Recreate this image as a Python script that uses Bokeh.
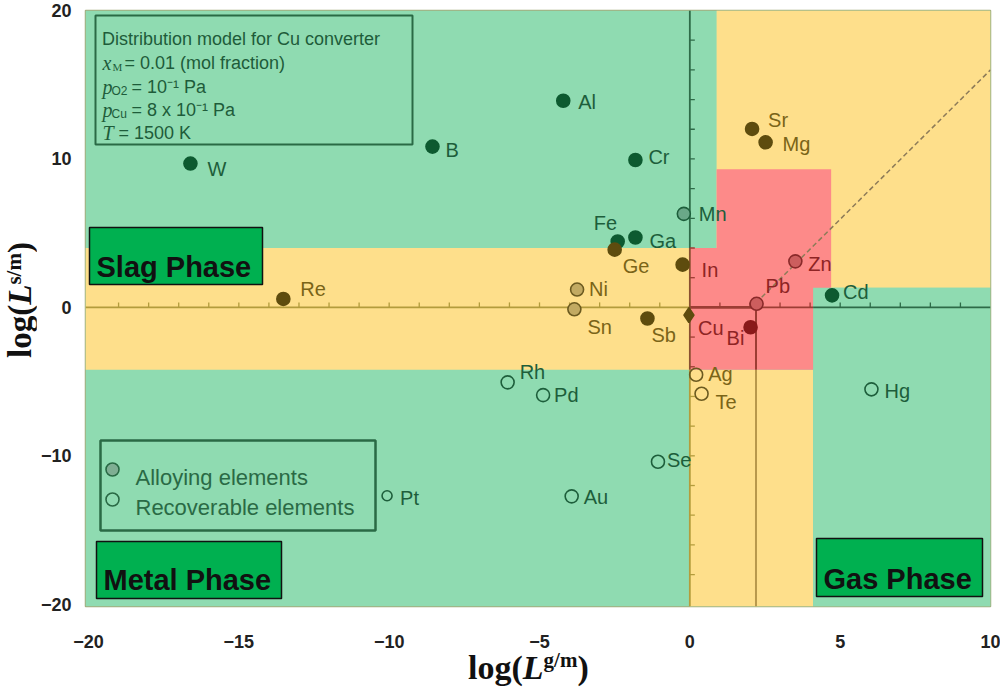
from bokeh.plotting import figure
from bokeh.models import Range1d, Label, FixedTicker, ColumnDataSource, Div
from bokeh.layouts import row, column
from bokeh.embed import file_html
from bokeh.resources import INLINE
from bokeh.core.properties import value

# ---------------- data ----------------
elements = ["W", "B", "Al", "Cr", "Mn", "Fe", "Ga", "Ge", "In", "Ni", "Re", "Sn", "Sb", "Cu",
            "Bi", "Pb", "Zn", "Cd", "Sr", "Mg", "Rh", "Pd", "Ag", "Te", "Se", "Au", "Hg", "Pt"]
log_Lgm = [-16.61, -8.56, -4.21, -1.81, -0.20, -2.40, -1.81, -2.50, -0.24, -3.75, -13.52, -3.84, -1.41, -0.03,
           2.02, 2.22, 3.51, 4.73, 2.07, 2.52, -6.06, -4.88, 0.21, 0.39, -1.06, -3.93, 6.04, -10.07]
log_Lsm = [9.69, 10.83, 13.92, 9.93, 6.30, 4.44, 4.71, 3.89, 2.88, 1.20, 0.57, -0.13, -0.75, -0.52,
           -1.34, 0.24, 3.10, 0.81, 12.02, 11.12, -5.05, -5.91, -4.54, -5.82, -10.40, -12.73, -5.52, -12.69]
# "removed" = removed to slag/gas (filled), "alloy" = alloying element, "recover" = recoverable element
kind = ["removed", "removed", "removed", "removed", "alloy", "removed", "removed", "removed", "removed", "alloy",
        "removed", "alloy", "removed", "removed", "removed", "alloy", "alloy", "removed", "removed", "removed",
        "recover", "recover", "recover", "recover", "recover", "recover", "recover", "recover"]

x_ticks = [-20, -15, -10, -5, 0, 5, 10]
y_ticks = [-20, -10, 0, 10, 20]

# phase zones (left, right, bottom, top) in log units
zone_yellow = [(-20.1, 0.0, -4.2, 4.0), (0.89, 10.0, 1.33, 20.0), (0.0, 4.1, -20.15, -4.2)]
zone_pink = [(0.0, 4.7, -4.2, 4.0), (0.89, 4.7, 4.0, 9.3)]
zone_gas = [(4.1, 10.0, -20.15, 1.33)]
diag_x = [2.2, 10.0]
diag_y = [0.3, 16.0]

# ---------------- geometry ----------------
XR = (-20.1, 10.0)
YR = (-20.15, 20.0)
FL, FR, FT, FB = 85, 990, 10, 606  # frame in page pixels
YLAB_W = 36                        # width of the y-title column
P_W, P_H = 1000 - YLAB_W, 650


def X(px):
    return XR[0] + (px - FL) / (FR - FL) * (XR[1] - XR[0])


def Y(py):
    return YR[1] - (py - FT) / (FB - FT) * (YR[1] - YR[0])


PXX = (FR - FL) / (XR[1] - XR[0])
PXY = (FB - FT) / (YR[1] - YR[0])

GREEN = "#8fdbb1"
YELLOW = "#fedf8b"
PINK = "#fd8a89"


def inside(x, y, r):
    return r[0] <= x <= r[1] and r[2] <= y <= r[3]


def zone(x, y):
    if any(inside(x, y, r) for r in zone_gas):
        return "g"
    if any(inside(x, y, r) for r in zone_pink):
        return "r"
    if any(inside(x, y, r) for r in zone_yellow):
        return "y"
    return "g"


p = figure(width=P_W, height=P_H, x_range=Range1d(*XR), y_range=Range1d(*YR),
           output_backend="svg", toolbar_location=None,
           min_border_left=FL - YLAB_W, min_border_right=YLAB_W + P_W - FR, min_border_top=FT,
           min_border_bottom=P_H - FB)
p.xgrid.visible = False
p.ygrid.visible = False
p.background_fill_color = GREEN
p.border_fill_color = "white"
p.outline_line_color = "#a3ab7c"
p.outline_line_width = 1.5

for ax, ticks, stand in ((p.xaxis, x_ticks, 28), (p.yaxis, y_ticks, 14)):
    ax.ticker = FixedTicker(ticks=ticks)
    ax.axis_line_color = None
    ax.major_tick_line_color = None
    ax.minor_tick_line_color = None
    ax.major_tick_out = 0
    ax.major_tick_in = 0
    ax.minor_tick_out = 0
    ax.minor_tick_in = 0
    ax.major_label_text_font = "Liberation Sans"
    ax.major_label_text_font_style = "bold"
    ax.major_label_text_font_size = "18px"
    ax.major_label_text_color = "#222222"
    ax.major_label_standoff = stand

# ---------------- zones ----------------
full = [(XR[0], XR[1], YR[0], YR[1])]
for rects, col in ((full, GREEN), (zone_yellow, YELLOW), (zone_pink, PINK), (zone_gas, GREEN)):
    p.quad(left=[r[0] for r in rects], right=[r[1] for r in rects],
           bottom=[r[2] for r in rects], top=[r[3] for r in rects],
           fill_color=col, line_color=None)

# inner axes through the origin and separators
LINE_G, LINE_Y, LINE_R = "#2e6b48", "#b39c3c", "#9c3d34"
p.segment(x0=[XR[0], 0.0, 2.2, 4.1], y0=[0, 0, 0, 0], x1=[0.0, 2.2, 4.1, XR[1]], y1=[0, 0, 0, 0],
          line_color=[LINE_Y, LINE_R, LINE_R, LINE_G], line_width=[1.8, 2.6, 1.6, 1.6])
p.segment(x0=[0, 0, 0], y0=[YR[0], -4.2, 4.0], x1=[0, 0, 0], y1=[-4.2, 4.0, YR[1]],
          line_color=[LINE_Y, "#8a5030", LINE_G], line_width=1.8)
p.segment(x0=[2.2, 2.2], y0=[YR[0], -4.2], x1=[2.2, 2.2], y1=[-4.2, 0.0],
          line_color=["#b8984c", LINE_R], line_width=2)
p.line(diag_x, diag_y, line_color="#8d7b58", line_width=1.5, line_dash="5 3")

tick_col = {"g": LINE_G, "y": LINE_Y, "r": LINE_R}
xt = [v for v in range(-19, 10) if v != 0]
p.segment(x0=xt, y0=[0] * len(xt), x1=xt, y1=[5 / PXY] * len(xt),
          line_color=[tick_col[zone(v, 0.1)] for v in xt], line_width=1.3)
yt = [v for v in range(-18, 20, 2) if v != 0]
p.segment(x0=[0] * len(yt), y0=yt, x1=[5 / PXX] * len(yt), y1=yt,
          line_color=[tick_col[zone(0.05, v)] for v in yt], line_width=1.3)

# ---------------- points ----------------
fill_map = {
    ("removed", "g"): "#0d5a30", ("removed", "y"): "#5e4c0e", ("removed", "r"): "#8a1a1a",
    ("alloy", "g"): "#6aa888", ("alloy", "y"): "#c2aa62", ("alloy", "r"): "#cc5e5e",
}
line_map = {"g": "#1d5e3b", "y": "#6b5a20", "r": "#8a2a2a"}
fills, lines, sizes, markers = [], [], [], []
for e, x, y, k in zip(elements, log_Lgm, log_Lsm, kind):
    z = zone(x, y)
    fills.append(fill_map.get((k, z), None))
    lines.append(line_map[z] if k != "removed" else fill_map[(k, z)])
    sizes.append(10 if e == "Pt" else (15 if e == "Cu" else 13))
    markers.append("diamond" if e == "Cu" else "circle")
src = ColumnDataSource(dict(x=log_Lgm, y=log_Lsm, fill=fills, line=lines, size=sizes, marker=markers))
p.scatter("x", "y", source=src, marker="marker", size="size", fill_color="fill",
          line_color="line", line_width=1.6)

# label offsets in pixels (dx right, dy down) from the point
lab_off = {"W": (17, 5), "B": (13, 3), "Al": (15, 1), "Cr": (13, -3), "Mn": (15, 0), "Fe": (-24, -18),
           "Ga": (14, 4), "Ge": (8, 16), "In": (19, 5), "Ni": (12, -1), "Re": (17, -10), "Sn": (13, 18),
           "Sb": (4, 16), "Cu": (9, 13), "Bi": (-24, 11), "Pb": (9, -18), "Zn": (13, 3), "Cd": (11, -3),
           "Sr": (16, -9), "Mg": (17, 2), "Rh": (12, -10), "Pd": (11, 0), "Ag": (12, -1), "Te": (14, 8),
           "Se": (9, -2), "Au": (12, 1), "Hg": (13, 2), "Pt": (13, 2)}
text_map = {"g": "#1d5e3b", "y": "#7a6418", "r": "#8e2424"}
lx, ly, lc = [], [], []
for e, x, y in zip(elements, log_Lgm, log_Lsm):
    dx, dy = lab_off[e]
    tx, ty = x + dx / PXX, y - dy / PXY
    lx.append(tx)
    ly.append(ty)
    lc.append(text_map[zone(tx + 0.3, ty)])
p.text(x=lx, y=ly, text=elements, text_color=lc, text_font=value("Liberation Sans"),
       text_font_size="20px", text_align="left", text_baseline="middle")


# ---------------- annotations inside the frame ----------------
def lab(px, py, txt, size, color, font="Liberation Sans", style="normal"):
    p.add_layout(Label(x=X(px), y=Y(py), text=txt, text_font=font, text_font_size=f"{size}px",
                       text_font_style=style, text_color=color, text_align="left",
                       text_baseline="alphabetic"))


def box(l, r, t, b, fill, line, width):
    p.quad(left=[X(l)], right=[X(r)], top=[Y(t)], bottom=[Y(b)], fill_color=fill,
           line_color=line, line_width=width)


DG = "#1e5c3a"
box(95, 412, 15, 144, None, "#2a6a45", 2)
lab(101.5, 38, "Distribution model for Cu converter", 18, DG)
lab(102, 62, "x", 20, DG, "Liberation Serif", "italic")
lab(112, 66, "M", 11, DG, "Liberation Serif")
lab(124, 62, "= 0.01 (mol fraction)", 18, DG)
lab(102, 86, "p", 20, DG, "Liberation Serif", "italic")
lab(111, 90, "O2", 12, DG)
lab(131, 86, "= 10\u207b\u00b9 Pa", 18, DG)
lab(102, 109, "p", 20, DG, "Liberation Serif", "italic")
lab(111, 113, "Cu", 12, DG)
lab(131, 109, "= 8 x 10\u207b\u00b9 Pa", 18, DG)
lab(102, 132, "T", 20, DG, "Liberation Serif", "italic")
lab(118, 132, "= 1500 K", 18, DG)

# legend
box(100, 375, 440, 530, None, "#2a6a45", 2.5)
p.scatter(x=[X(112)], y=[Y(469)], size=13, fill_color="#7fae93", line_color="#2a6a45", line_width=1.6)
p.scatter(x=[X(112)], y=[Y(499)], size=13, fill_color=None, line_color="#2a6a45", line_width=1.6)
lab(135, 477, "Alloying elements", 22, "#2a6a45")
lab(135, 507, "Recoverable elements", 22, "#2a6a45")

# phase boxes
PH = "#00b050"
box(89, 262, 227, 284, PH, "#111111", 1.5)
lab(96, 266, "Slag Phase", 29, "#111111", style="bold")
box(96, 281, 541, 598, PH, "#111111", 1.5)
lab(103, 579, "Metal Phase", 29, "#111111", style="bold")
box(816, 982, 538, 596, PH, "#111111", 1.5)
lab(823, 578, "Gas Phase", 29, "#111111", style="bold")

# ---------------- axis titles (HTML, beside the canvas) ----------------
TITLE_CSS = ("font-family: 'Liberation Serif', 'Times New Roman', serif; font-weight: bold; "
             "color: #111111; white-space: nowrap;")
SUP_CSS = "font-size: 21px; vertical-align: 10px; line-height: 0;"

xdiv = Div(width=1000, height=693 - P_H, margin=0,
           text=(f'<div style="{TITLE_CSS} font-size: 34px; line-height: 36px; margin-left: 468px;">'
                 f'log(<i>L</i><sup style="{SUP_CSS} vertical-align: 12px;">g/m</sup>)</div>'))
ydiv = Div(width=YLAB_W, height=P_H, margin=0,
           text=(f'<div style="position: relative; width: {YLAB_W}px; height: {P_H}px;">'
                 f'<div style="{TITLE_CSS} position: absolute; left: 4px; top: 300px; font-size: 33px; '
                 f'line-height: 33px; transform-origin: 0 0; transform: rotate(-90deg) translate(-50%, 0);">'
                 f'log(<i>L</i><sup style="{SUP_CSS}">s/m</sup>)</div></div>'))

layout = column(row(ydiv, p, spacing=0), xdiv, spacing=0)
open("out.html", "w").write(file_html(layout, INLINE))
